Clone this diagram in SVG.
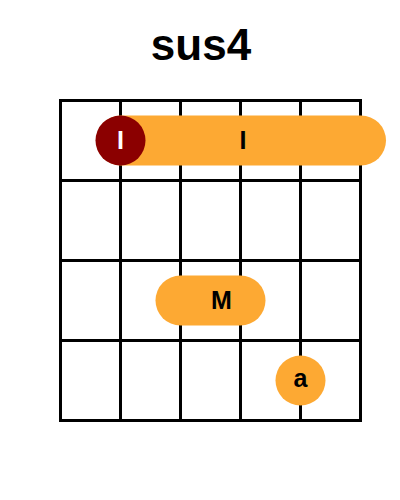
<svg xmlns="http://www.w3.org/2000/svg" width="400" height="500" viewBox="0 0 400 500">
<style>
.grid line{stroke:#000;stroke-width:3;stroke-linecap:square}
.bar{fill:#FDA933}
.root{fill:#8B0000}
text{font-family:"Liberation Sans",Arial,sans-serif;font-weight:bold;text-anchor:middle}
.lbl{font-size:25px;fill:#000}
.rlbl{font-size:25px;fill:#fff}
.title{font-size:44px;fill:#000}
</style>
<rect width="400" height="500" fill="#fff"/>
<text class="title" x="201" y="60">sus4</text>
<g id="grid" class="grid">
<line x1="60.5" y1="100.5" x2="360.5" y2="100.5"/>
<line x1="60.5" y1="180.5" x2="360.5" y2="180.5"/>
<line x1="60.5" y1="260.5" x2="360.5" y2="260.5"/>
<line x1="60.5" y1="340.5" x2="360.5" y2="340.5"/>
<line x1="60.5" y1="420.5" x2="360.5" y2="420.5"/>
<line x1="60.5" y1="100.5" x2="60.5" y2="420.5"/>
<line x1="120.5" y1="100.5" x2="120.5" y2="420.5"/>
<line x1="180.5" y1="100.5" x2="180.5" y2="420.5"/>
<line x1="240.5" y1="100.5" x2="240.5" y2="420.5"/>
<line x1="300.5" y1="100.5" x2="300.5" y2="420.5"/>
<line x1="360.5" y1="100.5" x2="360.5" y2="420.5"/>
</g>
<g id="barre-index">
<rect class="bar" x="96" y="115.5" width="290" height="50" rx="25"/>
<text class="lbl" x="243" y="149">I</text>
</g>
<g id="root-index">
<circle class="root" cx="120.5" cy="140.5" r="25"/>
<text class="rlbl" x="120.5" y="149">I</text>
</g>
<g id="middle">
<rect class="bar" x="155.5" y="275.5" width="110" height="50" rx="25"/>
<text class="lbl" x="221.5" y="309">M</text>
</g>
<g id="ring">
<circle class="bar" cx="300.5" cy="380.5" r="25"/>
<text class="lbl" x="300.5" y="387">a</text>
</g>
</svg>
